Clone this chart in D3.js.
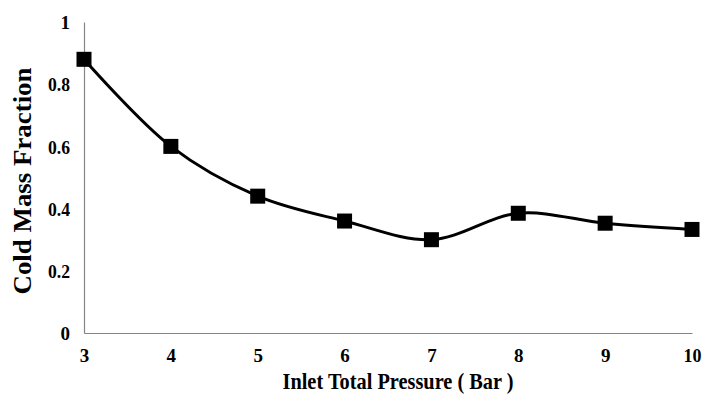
<!DOCTYPE html>
<html>
<head>
<meta charset="utf-8">
<script src="https://cdn.jsdelivr.net/npm/d3@7"></script>
<style>
  html, body { margin: 0; padding: 0; background: #fff; }
  svg { display: block; }
  text { font-family: "Liberation Serif", "Times New Roman", serif; font-weight: bold; fill: #000; }
</style>
</head>
<body>
<svg id="chart" width="702" height="394"></svg>
<script>
// Inlet pressure (bar) against cold mass fraction
const pressures = [3, 4, 5, 6, 7, 8, 9, 10];
const coldFraction = [0.88, 0.60, 0.44, 0.36, 0.30, 0.385, 0.353, 0.333];
const xTicks = [3, 4, 5, 6, 7, 8, 9, 10];
const yTicks = [0, 0.2, 0.4, 0.6, 0.8, 1];
const xTitle = "Inlet Total Pressure ( Bar )";
const yTitle = "Cold Mass Fraction";

const svg = d3.select("#chart");
const x = d3.scaleLinear().domain([3, 10]).range([84, 692]);
const y = d3.scaleLinear().domain([0, 1]).range([333, 22]);

// axes (no tick marks, grey lines)
const xAxis = svg.append("g").attr("transform", `translate(0,${y(0)})`)
  .call(d3.axisBottom(x).tickValues(xTicks).tickSize(0).tickPadding(16).tickFormat(d3.format("d")));
const yAxis = svg.append("g").attr("transform", `translate(${x(3)},0)`)
  .call(d3.axisLeft(y).tickValues(yTicks).tickSize(0).tickPadding(14).tickFormat(d => d === 0 || d === 1 ? String(d) : d3.format(".1f")(d)));
[xAxis, yAxis].forEach(a => {
  a.select(".domain").attr("stroke", "#858585").attr("stroke-width", 1.2);
  a.selectAll("text").style("font-size", "19px").style("font-family", "Liberation Serif, serif").style("font-weight", "bold");
});
yAxis.selectAll("text").attr("dy", "0.35em").attr("textLength", d => d === 0 || d === 1 ? null : 22).attr("lengthAdjust", "spacingAndGlyphs");
xAxis.selectAll("text").filter(d => d === 10).attr("textLength", 18).attr("lengthAdjust", "spacingAndGlyphs");

// smooth series line
const data = pressures.map((p, i) => ({ p, v: coldFraction[i] }));
const line = d3.line().x(d => x(d.p)).y(d => y(d.v)).curve(d3.curveCatmullRom.alpha(0.5));
svg.append("path").datum(data).attr("d", line)
  .attr("fill", "none").attr("stroke", "#000").attr("stroke-width", 3);

// square markers
const s = 15;
svg.selectAll("rect.pt").data(data).join("rect").attr("class", "pt")
  .attr("x", d => x(d.p) - s / 2).attr("y", d => y(d.v) - s / 2)
  .attr("width", s).attr("height", s).attr("fill", "#000");

// axis titles (condensed bold serif)
svg.append("text").attr("x", 398).attr("y", 389).attr("text-anchor", "middle")
  .attr("textLength", 231).attr("lengthAdjust", "spacingAndGlyphs")
  .style("font-size", "23px").text(xTitle);
svg.append("text").attr("transform", "translate(31,181) rotate(-90)").attr("text-anchor", "middle")
  .attr("textLength", 227).attr("lengthAdjust", "spacingAndGlyphs")
  .style("font-size", "25px").text(yTitle);
</script>
</body>
</html>
